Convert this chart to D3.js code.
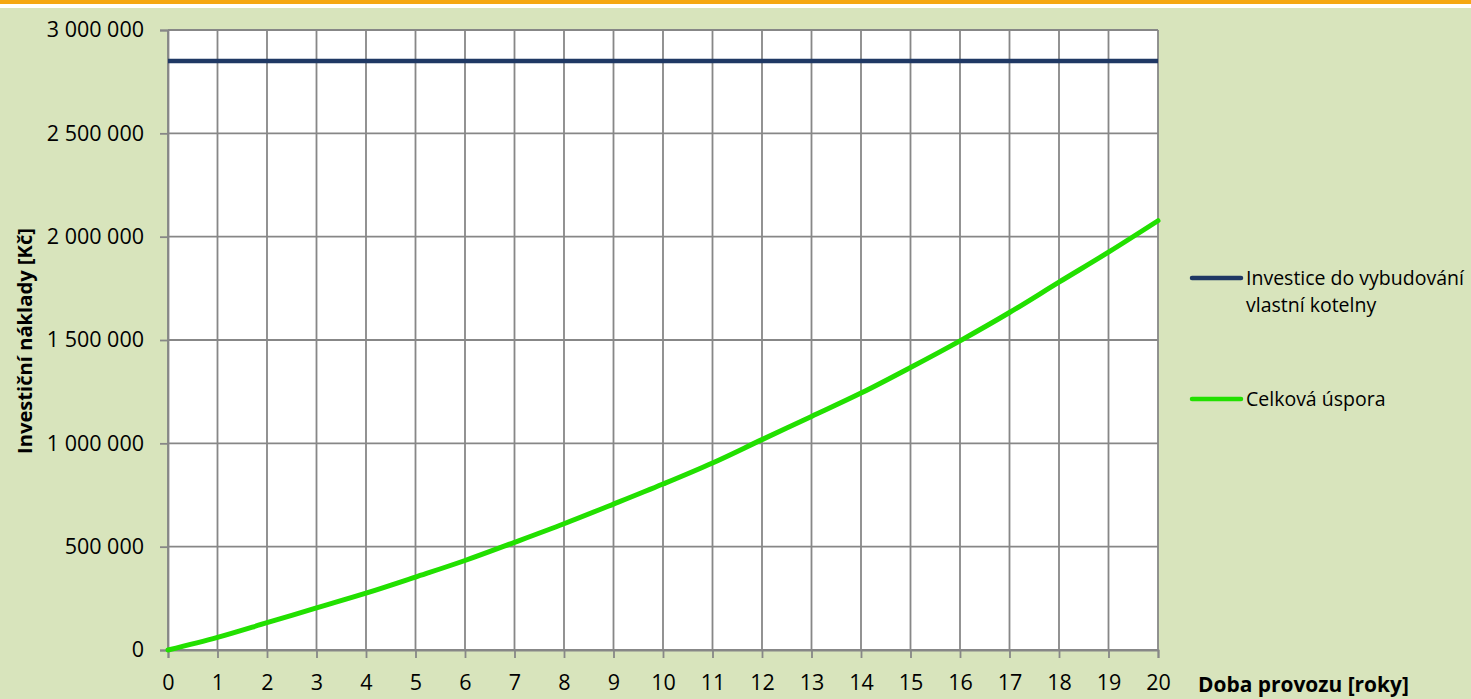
<!DOCTYPE html>
<html><head><meta charset="utf-8">
<script src="https://cdn.jsdelivr.net/npm/d3@7"></script>
<style>
html,body{margin:0;padding:0;background:#d8e4bc;overflow:hidden;}
svg{display:block;}
</style></head>
<body>
<script>
const years = d3.range(0, 21);
const investment = years.map(() => 2850000);
const savings = [0, 61000, 132000, 204000, 275000, 353000, 433000, 521000, 611000, 706000, 803000, 905000, 1018000, 1130000, 1243000, 1367000, 1496000, 1633000, 1780000, 1925000, 2077000];
const yTicks = [0, 500000, 1000000, 1500000, 2000000, 2500000, 3000000];
const seriesNames = ["Investice do vybudování|vlastní kotelny", "Celková úspora"];
const seriesColors = ["#1f3864", "#22e000"];
const xTitle = "Doba provozu [roky]";
const yTitle = "Investiční náklady [Kč]";

const W = 1471, H = 699;
const FONT = "'Open Sans', sans-serif";
const svg = d3.select("body").append("svg").attr("width", W).attr("height", H);
svg.append("rect").attr("width", W).attr("height", H).attr("fill", "#d8e4bc");
svg.append("rect").attr("x", 0).attr("y", 0).attr("width", W).attr("height", 4).attr("fill", "#f5a713");
svg.append("rect").attr("x", 0).attr("y", 4).attr("width", W).attr("height", 4).attr("fill", "#ffffff");

const x = d3.scaleLinear().domain([0, 20]).range([168, 1158]);
const y = d3.scaleLinear().domain([0, 3000000]).range([650, 30]);

svg.append("rect").attr("x", x(0)).attr("y", y(3000000)).attr("width", x(20) - x(0)).attr("height", y(0) - y(3000000)).attr("fill", "#ffffff");

const fmt = v => d3.format(",")(v).replace(/,/g, " ");

// fit a text's font size so its rendered width equals target
function fitWidth(sel, target) {
  const fs = parseFloat(sel.style("font-size"));
  const w = sel.node().getComputedTextLength();
  if (w > 0) sel.style("font-size", (fs * target / w).toFixed(2) + "px");
}

// grid
const grid = svg.append("g").attr("stroke", "#878787").attr("stroke-width", 1.8);
grid.selectAll(".vg").data(years).join("line")
  .attr("x1", d => x(d)).attr("x2", d => x(d)).attr("y1", y(3000000)).attr("y2", y(0));
grid.selectAll(".hg").data(yTicks).join("line")
  .attr("x1", x(0)).attr("x2", x(20)).attr("y1", d => y(d)).attr("y2", d => y(d));

// axes
const yAxis = svg.append("g").attr("transform", `translate(${x(0)},0)`)
  .call(d3.axisLeft(y).tickValues(yTicks).tickSize(8).tickPadding(16).tickFormat(fmt));
const xAxis = svg.append("g").attr("transform", `translate(0,${y(0)})`)
  .call(d3.axisBottom(x).tickValues(years).tickSize(8).tickPadding(17).tickFormat(d3.format("d")));
[yAxis, xAxis].forEach(a => {
  a.select(".domain").attr("stroke", "#878787").attr("stroke-width", 1.8);
  a.selectAll(".tick line").attr("stroke", "#878787").attr("stroke-width", 1.8);
  a.selectAll("text").attr("fill", "#000").style("font-family", FONT).style("font-size", "21.5px");
});

// lines
const line = d3.line().x((d, i) => x(years[i])).y(d => y(d));
svg.append("path").datum(investment).attr("d", line)
  .attr("fill", "none").attr("stroke", seriesColors[0]).attr("stroke-width", 4.5);
svg.append("path").datum(savings).attr("d", line.curve(d3.curveMonotoneX))
  .attr("fill", "none").attr("stroke", seriesColors[1]).attr("stroke-width", 5).attr("stroke-linecap", "round");

// titles
const yt = svg.append("text").attr("transform", `translate(24,341) rotate(-90)`)
  .attr("text-anchor", "middle").attr("dominant-baseline", "central")
  .style("font-family", FONT).style("font-weight", "bold").style("font-size", "18px").text(yTitle);
fitWidth(yt, 226);
const xt = svg.append("text").attr("x", 1198).attr("y", 692)
  .style("font-family", FONT).style("font-weight", "bold").style("font-size", "20.5px").text(xTitle);
fitWidth(xt, 211);

// legend
const legY = [278, 399];
seriesNames.forEach((name, i) => {
  svg.append("line").attr("x1", 1192).attr("x2", 1241).attr("y1", legY[i]).attr("y2", legY[i])
    .attr("stroke", seriesColors[i]).attr("stroke-width", 4.5).attr("stroke-linecap", "round");
  const parts = name.split("|");
  const t = svg.append("text").style("font-family", FONT).style("font-size", "19.5px").attr("fill", "#000");
  parts.forEach((p, j) => {
    t.append("tspan").attr("x", 1246).attr("y", legY[i] + 7 + j * 27).text(p);
  });
});
</script>
</body></html>
